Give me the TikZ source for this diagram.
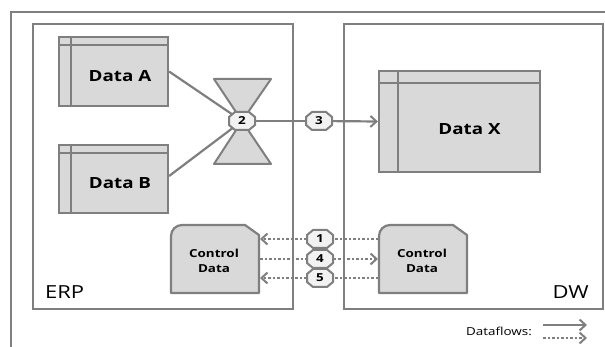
\documentclass[tikz,border=0pt]{standalone}
\usepackage{fontspec}
\setmainfont{Open Sans}[FakeStretch=1.22]
\usetikzlibrary{arrows.meta}
\definecolor{lgray}{HTML}{7F7F7F}
\definecolor{bfill}{HTML}{D9D9D9}
\definecolor{ofill}{HTML}{F2F2F2}
\pgfdeclarelayer{bg}
\pgfsetlayers{bg,main}
\tikzset{
  frame/.style={draw=lgray,line width=2.2pt},
  databox/.style={draw=lgray,fill=bfill,line width=2.2pt,rectangle,inner sep=0pt},
  inner/.style={draw=lgray,line width=2.2pt},
  datatext/.style={font=\bfseries\fontsize{15.4}{17}\selectfont,inner sep=0pt},
  ctrltext/.style={font=\bfseries\fontsize{11}{15}\selectfont,align=center,inner sep=0pt},
  octoshape/.style={draw=lgray,fill=ofill,line width=2pt,line join=round},
  octo/.style={rectangle,inner sep=0pt,minimum width=26pt,minimum height=18pt,font=\bfseries\fontsize{11}{11}\selectfont},
  flow/.style={draw=lgray,line width=2.2pt},
  dotflow/.style={draw=lgray,line width=2.2pt,dash pattern=on 2.5pt off 2pt},
  tip/.style={-{Straight Barb[length=6pt,width=11pt,line width=2pt]}},
  lbl/.style={font=\fontsize{18}{19}\selectfont,inner sep=0pt},
}
\newcommand\octonode[3]{%
  \filldraw[octoshape,shift={(#2)}] (-13,-4) -- (-13,4) -- (-7,9) -- (7,9) -- (13,4) -- (13,-4) -- (7,-9) -- (-7,-9) -- cycle;
  \node[octo] (#1) at (#2) {#3};}
\begin{document}
\begin{tikzpicture}[x=1pt,y=-1pt]
\useasboundingbox (0,0) rectangle (605,347);
% outer frame (open)
\draw[frame,line width=1.6pt] (11,347) -- (11,12) -- (605,12);
% ERP and DW frames
\node[frame,rectangle,minimum width=260,minimum height=285,inner sep=0pt] (erp) at (163,166.5) {};
\node[frame,rectangle,minimum width=259,minimum height=285,inner sep=0pt] (dw) at (473.5,166.5) {};
\node[lbl,anchor=south west] (erpl) at (45,299) {ERP};
\node[lbl,anchor=south east] (dwl) at (589,299) {DW};
% Data A
\node[databox,minimum width=109,minimum height=69] (A) at (113.5,71.5) {};
\draw[inner] ([xshift=13]A.north west) -- ([xshift=13]A.south west)
  ([yshift=-9]A.north west) -- ([yshift=-9]A.north east);
\node[datatext] (At) at (120,76.5) {Data A};
% Data B
\node[databox,minimum width=109,minimum height=68] (B) at (113.5,179) {};
\draw[inner] ([xshift=13]B.north west) -- ([xshift=13]B.south west)
  ([yshift=-9]B.north west) -- ([yshift=-9]B.north east);
\node[datatext] (Bt) at (120,183.5) {Data B};
% Data X
\node[databox,minimum width=161,minimum height=101] (X) at (459.5,121.5) {};
\draw[inner] ([xshift=20]X.north west) -- ([xshift=20]X.south west)
  ([yshift=-13]X.north west) -- ([yshift=-13]X.north east);
\node[datatext] (Xt) at (469.5,129) {Data X};
% hourglass
\filldraw[fill=bfill,draw=lgray,line width=2pt,line join=round] (214,79) -- (271,79) -- (242,121) -- cycle;
\filldraw[fill=bfill,draw=lgray,line width=2pt,line join=round] (214,164) -- (271,164) -- (242,121) -- cycle;
\octonode{o2}{242,121}{2}
\octonode{o3}{319,121}{3}
% control data shapes
\coordinate (CE) at (215,259);
\coordinate (CD) at (423,259);
\foreach \c in {CE,CD}{
  \draw[draw=lgray,fill=bfill,line width=2.2pt,line join=round]
    ([shift={(-44,34)}]\c) -- ([shift={(-44,-23)}]\c)
    arc[start angle=180,end angle=270,radius=11] -- ([shift={(30,-34)}]\c)
    -- ([shift={(44,-24)}]\c) -- ([shift={(44,34)}]\c) -- cycle;
}
\coordinate (CEe) at (260,0);
\coordinate (CDw) at (378,0);
\node[ctrltext] (CEt) at (214,261) {Control\\Data};
\node[ctrltext] (CDt) at (422,261) {Control\\Data};
\octonode{o1}{320,239}{1}
\octonode{o4}{320,259}{4}
\octonode{o5}{320,278}{5}
\begin{pgfonlayer}{bg}
\draw[flow] (A.east) -- (o2.center);
\draw[flow] ([yshift=3]B.east) -- (o2.center);
\draw[flow] (o2.center) -- (o3.center);
\draw[flow,tip] (o3.center) -- (X.west);
\draw[dotflow] (CDw |- o1) -- (o1.center);
\draw[dotflow,tip] (o1.center) -- (CEe |- o1);
\draw[dotflow] (CEe |- o4) -- (o4.center);
\draw[dotflow,tip] (o4.center) -- (CDw |- o4);
\draw[dotflow] (CDw |- o5) -- (o5.center);
\draw[dotflow,tip] (o5.center) -- (CEe |- o5);
\end{pgfonlayer}
% legend
\node[font=\fontsize{11}{12}\selectfont,inner sep=0pt] (leg) at (499,331) {Dataflows:};
\coordinate (l1a) at (543,325);
\coordinate (l1b) at (587,325);
\coordinate (l2a) at (543,338);
\coordinate (l2b) at (587,338);
\draw[flow,tip] (l1a) -- (l1b);
\draw[dotflow,tip] (l2a) -- (l2b);
\end{tikzpicture}
\end{document}
